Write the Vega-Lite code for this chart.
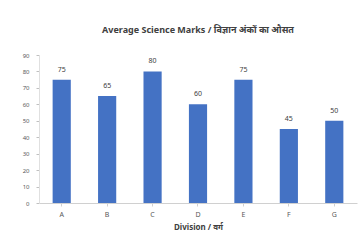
{
  "$schema": "https://vega.github.io/schema/vega-lite/v6.json",
  "width": 318,
  "height": 148,
  "autosize": {"type": "none"},
  "padding": {"left": 39, "top": 55, "right": 6, "bottom": 42},
  "background": "white",
  "title": {
    "text": "Average Science Marks / विज्ञान अंकों का औसत",
    "fontSize": 9,
    "font": "Noto Sans",
    "fontWeight": "bold",
    "color": "#404040",
    "offset": 17,
    "anchor": "middle"
  },
  "data": {
    "values": [
      {"division": "A", "marks": 75},
      {"division": "B", "marks": 65},
      {"division": "C", "marks": 80},
      {"division": "D", "marks": 60},
      {"division": "E", "marks": 75},
      {"division": "F", "marks": 45},
      {"division": "G", "marks": 50}
    ]
  },
  "encoding": {
    "x": {
      "field": "division",
      "type": "nominal",
      "sort": null,
      "scale": {"paddingInner": 0.6, "paddingOuter": 0.3},
      "axis": {
        "title": "Division / वर्ग",
        "labelAngle": 0,
        "labelFontSize": 7,
        "labelColor": "#595959",
        "titleFontSize": 8,
        "titleFontWeight": "bold",
        "titleColor": "#404040",
        "titlePadding": 6,
        "domainColor": "#d0d0d0",
        "tickColor": "#d0d0d0",
        "tickSize": 3,
        "labelPadding": 4
      }
    },
    "y": {
      "field": "marks",
      "type": "quantitative",
      "scale": {"domain": [0, 90]},
      "axis": {
        "title": null,
        "values": [0, 10, 20, 30, 40, 50, 60, 70, 80, 90],
        "labelFontSize": 6,
        "labelColor": "#595959",
        "grid": false,
        "domainColor": "#e0e0e0",
        "tickColor": "#c0c0c0",
        "tickSize": 3,
        "labelPadding": 7
      }
    }
  },
  "layer": [
    {
      "mark": {"type": "bar", "color": "#4472c4"}
    },
    {
      "mark": {"type": "text", "baseline": "bottom", "dy": -7, "fontSize": 7, "color": "#404040"},
      "encoding": {"text": {"field": "marks", "type": "quantitative"}}
    }
  ],
  "config": {"view": {"stroke": null}, "font": "Noto Sans"}
}
